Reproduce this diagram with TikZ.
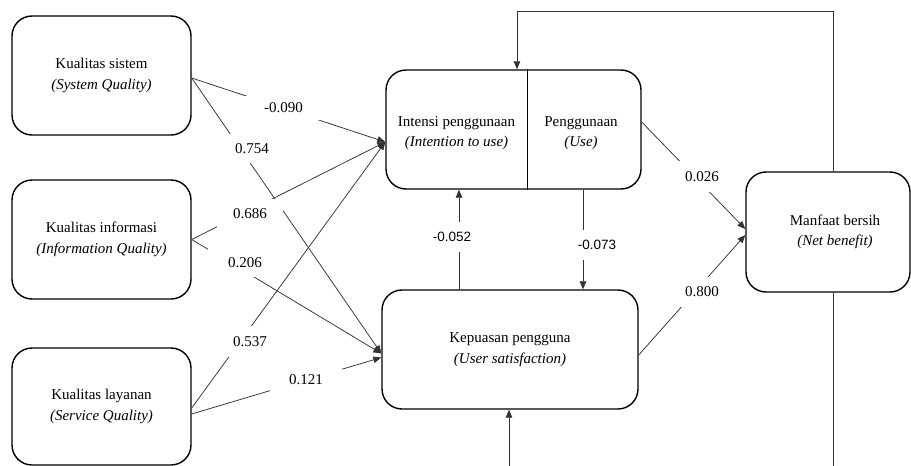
\documentclass[tikz,border=0pt]{standalone}
\usepackage{fontspec}
\setmainfont{Liberation Serif}
\newfontfamily\sansf{Liberation Sans}
\usetikzlibrary{arrows.meta,calc}
\begin{document}
\begin{tikzpicture}[x=1pt,y=-1pt,
  box/.style={draw=black,line width=1.4pt,rounded corners=20pt,inner sep=0pt,
    font=\fontsize{15}{20.5}\selectfont,align=center},
  txt/.style={inner sep=0pt,font=\fontsize{15}{20.5}\selectfont,align=center},
  conn/.style={draw=black!80,line width=0.75pt},
  arr/.style={conn,-{Triangle[length=8pt,width=6.5pt]}},
  lab/.style={fill=white,inner sep=0pt,font=\fontsize{15}{18}\selectfont},
  slab/.style={fill=white,inner sep=0pt,font=\sansf\fontsize{13.5}{16}\selectfont}]
\useasboundingbox (0,0) rectangle (911,466);
% boxes
\node[box,minimum width=179pt,minimum height=119pt] (sys) at (101.5,75.5)
  {Kualitas sistem\\\textit{(System Quality)}};
\node[box,minimum width=179pt,minimum height=119pt] (info) at (101.5,239.5)
  {Kualitas informasi\\\textit{(Information Quality)}};
\node[box,minimum width=179pt,minimum height=117pt] (serv) at (101.5,406.5)
  {Kualitas layanan\\\textit{(Service Quality)}};
\node[box,minimum width=255pt,minimum height=119pt] (iu) at (513.5,129.5) {};
\node[txt] (int) at (456.5,133) {Intensi penggunaan\\\textit{(Intention to use)}};
\node[txt] (use) at (581,133) {Penggunaan\\\textit{(Use)}};
\coordinate (div) at (527,0);
\draw[line width=0.9pt] (iu.north -| div) -- (iu.south -| div);
\node[box,minimum width=256pt,minimum height=119pt] (sat) at (510,349.5)
  {Kepuasan pengguna\\\textit{(User satisfaction)}};
\node[box,minimum width=164pt,minimum height=120pt] (net) at (828,232) {};
\node[txt] (nettxt) at (835,232) {Manfaat bersih\\\textit{(Net benefit)}};
% helper coordinates
\coordinate (vx1) at (459,0);
\coordinate (vx2) at (583,0);
\coordinate (ftop) at (833,11);
\coordinate (ftl) at (517,11);
\coordinate (fbot) at (833,466);
\coordinate (sbot) at (509,466);
% connectors
\draw[arr] ($(sys.east)+(0,2.5)$) -- ($(iu.west)+(0,12.5)$);
\draw[arr] ($(sys.east)+(0,2.5)$) -- ($(sat.west)+(0,4)$);
\draw[arr] (info.east) -- ($(iu.west)+(0,12.5)$);
\draw[arr] (info.east) -- ($(sat.west)+(0,4)$);
\draw[arr] ($(serv.east)+(0,1.5)$) -- ($(iu.west)+(0,12.5)$);
\draw[arr] ($(serv.east)+(0,7.5)$) -- ($(sat.west)+(0,8)$);
\draw[arr] (sat.north -| vx1) -- (iu.south -| vx1);
\draw[arr] (iu.south -| vx2) -- (sat.north -| vx2);
\draw[arr] ($(iu.east)+(0,-7.5)$) -- ($(net.west)+(0,-3)$);
\draw[arr] ($(sat.east)+(0,5.5)$) -- ($(net.west)+(0,3)$);
\draw[arr] (net.north -| ftop) -- (ftop) -- (ftl) -- (iu.north -| ftl);
\draw[conn] (net.south -| fbot) -- (fbot);
\draw[arr] (sbot) -- (sat.south -| sbot);
% labels
\node[lab,minimum width=77pt,minimum height=24pt] (l1) at (283.5,108) {-0.090};
\node[lab,minimum width=48pt,minimum height=29pt] (l2) at (252,148.5) {0.754};
\node[lab,minimum width=66pt,minimum height=29pt] (l3) at (250,213.5) {0.686};
\node[lab,minimum width=74pt,minimum height=29pt] (l4) at (245,262.5) {0.206};
\node[lab,minimum width=50pt,minimum height=31pt] (l5) at (250,341.5) {0.537};
\node[lab,minimum width=72pt,minimum height=24pt] (l6) at (306,380) {0.121};
\node[slab,minimum width=44pt,minimum height=30pt] (l7) at (452,237) {-0.052};
\node[slab,minimum width=44pt,minimum height=30pt] (l8) at (597,245) {-0.073};
\node[lab,minimum width=50pt,minimum height=31pt] (l9) at (702,176.5) {0.026};
\node[lab,minimum width=50pt,minimum height=30pt] (l10) at (702,292) {0.800};
\end{tikzpicture}
\end{document}
